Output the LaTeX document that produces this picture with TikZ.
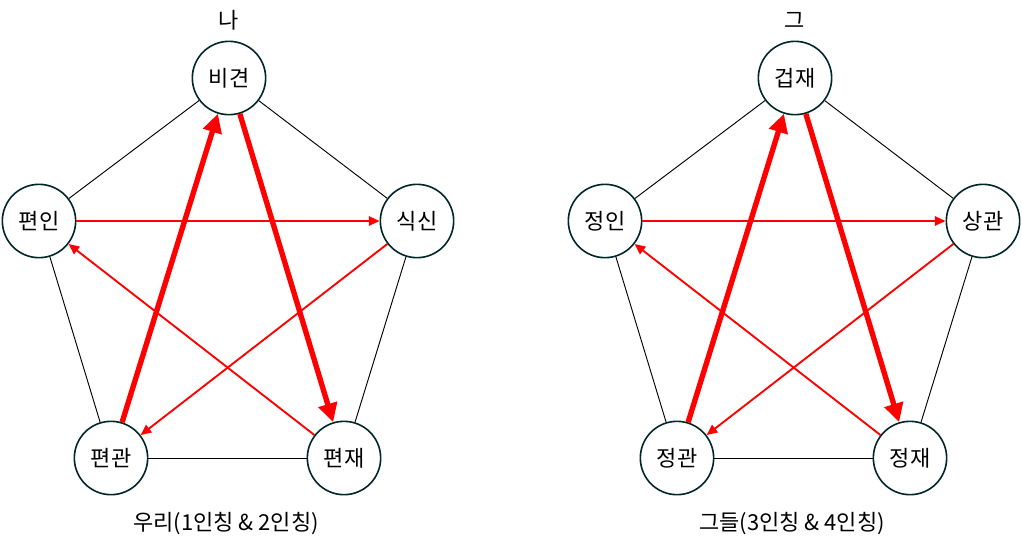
\documentclass[tikz,border=0pt]{standalone}
\usepackage{fontspec}
\setmainfont{Noto Sans CJK KR}
\usetikzlibrary{arrows.meta}
\begin{document}
\begin{tikzpicture}[x=0.75pt,y=-0.75pt,
  nd/.style={circle,draw=black!70!teal,line width=1.2pt,fill=white,minimum size=55pt,inner sep=0pt,font=\fontsize{16.5}{19}\selectfont},
  lab/.style={font=\fontsize{16.5}{19}\selectfont},
  edge/.style={black,line width=0.7pt},
  thick/.style={red,line width=4pt,-{Triangle[length=14pt,width=14pt]}},
  thin/.style={red,line width=1.4pt,-{Triangle[length=8pt,width=7pt]}}]
\useasboundingbox (0,0) rectangle (1022,554);
\foreach \dx/\a/\b/\c/\d/\e/\t/\cap/\sfx in {0/비견/편인/식신/편관/편재/나/우리(1인칭 \& 2인칭)/L, 566/겁재/정인/상관/정관/정재/그/그들(3인칭 \& 4인칭)/R}{
  \begin{scope}[xshift=\dx*0.75pt]
  \node[nd] (a\sfx) at (229,78) {\a};
  \node[nd] (b\sfx) at (39,221) {\b};
  \node[nd] (c\sfx) at (417,221) {\c};
  \node[nd] (d\sfx) at (111,458) {\d};
  \node[nd] (e\sfx) at (344,458) {\e};
  \node[lab] (t\sfx) at (229,20) {\t};
  \node[lab] (p\sfx) at (226,524) {\cap};
  \end{scope}
  \draw[edge] (a\sfx) -- (b\sfx);
  \draw[edge] (a\sfx) -- (c\sfx);
  \draw[edge] (b\sfx) -- (d\sfx);
  \draw[edge] (c\sfx) -- (e\sfx);
  \draw[edge] (d\sfx) -- (e\sfx);
  \draw[thick] (d\sfx) -- (a\sfx);
  \draw[thick] (a\sfx) -- (e\sfx);
  \draw[thin] (b\sfx) -- (c\sfx);
  \draw[thin] (c\sfx) -- (d\sfx);
  \draw[thin] (e\sfx) -- (b\sfx);
}
\end{tikzpicture}
\end{document}
